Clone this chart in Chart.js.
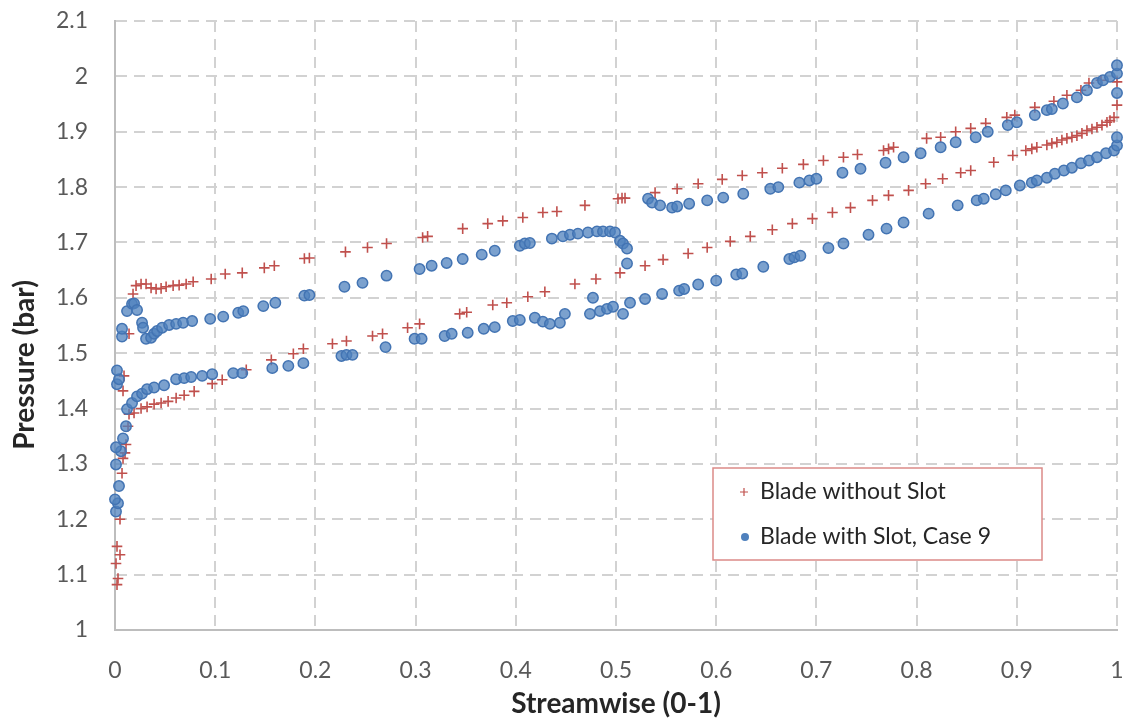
<!DOCTYPE html>
<html>
<head>
<meta charset="utf-8">
<script src="https://cdn.jsdelivr.net/npm/chart.js@4"></script>
<style>
  html, body { margin: 0; padding: 0; background: #fff; }
  canvas { display: block; }
</style>
</head>
<body>
<canvas id="pressureChart" width="1131" height="727"></canvas>
<script>
// data: [streamwise, pressure]
const seriesNames = ['Blade without Slot', 'Blade with Slot, Case 9'];

const noSlotPoints = [
    // leading edge
    [0.002,1.082],[0.003,1.093],[0.001,1.12],[0.005,1.136],[0.002,1.151],[0.005,1.2],[0.007,1.283],
    [0.008,1.31],[0.01,1.32],[0.011,1.335],[0.008,1.432],[0.009,1.459],[0.014,1.535],[0.018,1.607],
    // lower branch
    [0.013,1.368],[0.014,1.39],[0.019,1.392],[0.026,1.4],[0.032,1.403],[0.039,1.408],[0.046,1.41],
    [0.053,1.413],[0.061,1.419],[0.069,1.424],[0.079,1.431],[0.097,1.445],[0.107,1.452],[0.131,1.47],
    [0.156,1.488],[0.178,1.499],[0.188,1.508],[0.217,1.517],[0.231,1.522],[0.257,1.531],[0.267,1.535],
    [0.292,1.546],[0.304,1.553],[0.344,1.571],[0.351,1.574],[0.377,1.587],[0.391,1.591],[0.412,1.602],
    [0.429,1.611],[0.459,1.625],[0.48,1.634],[0.504,1.645],[0.529,1.658],[0.547,1.669],[0.572,1.68],
    [0.591,1.691],[0.614,1.702],[0.634,1.711],[0.656,1.723],[0.676,1.734],[0.696,1.743],[0.716,1.754],
    [0.734,1.763],[0.756,1.776],[0.772,1.785],[0.792,1.794],[0.809,1.806],[0.826,1.815],[0.844,1.826],
    [0.854,1.83],[0.877,1.845],[0.896,1.857],[0.909,1.866],[0.915,1.869],[0.92,1.872],[0.93,1.876],
    [0.935,1.879],[0.94,1.881],[0.945,1.885],[0.95,1.888],[0.955,1.89],[0.96,1.893],[0.965,1.897],
    [0.97,1.902],[0.975,1.905],[0.98,1.908],[0.985,1.912],[0.99,1.917],[0.993,1.92],[0.997,1.926],[1.0,1.948],
    // upper branch
    [0.021,1.622],[0.026,1.625],[0.031,1.625],[0.036,1.618],[0.041,1.616],[0.046,1.617],[0.051,1.62],
    [0.058,1.622],[0.064,1.623],[0.071,1.625],[0.078,1.629],[0.096,1.634],[0.11,1.643],[0.127,1.645],
    [0.149,1.654],[0.159,1.658],[0.189,1.671],[0.194,1.672],[0.23,1.683],[0.252,1.691],[0.271,1.698],
    [0.307,1.709],[0.312,1.711],[0.347,1.725],[0.372,1.734],[0.387,1.739],[0.407,1.745],[0.427,1.754],
    [0.441,1.756],[0.469,1.767],[0.502,1.779],[0.506,1.78],[0.509,1.78],[0.539,1.79],[0.561,1.797],
    [0.582,1.806],[0.606,1.814],[0.626,1.821],[0.646,1.826],[0.666,1.834],[0.687,1.841],[0.707,1.848],
    [0.727,1.854],[0.741,1.859],[0.767,1.866],[0.772,1.869],[0.777,1.872],[0.81,1.888],[0.824,1.89],
    [0.839,1.9],[0.854,1.906],[0.869,1.915],[0.89,1.926],[0.898,1.93],[0.918,1.944],[0.937,1.955],
    [0.95,1.966],[0.964,1.975],[0.972,1.988],[0.984,1.993],[1.0,1.99]
];

const withSlotPoints = [
    // leading edge
    [0.001,1.214],[0.003,1.229],[0.0,1.236],[0.004,1.26],[0.001,1.299],[0.006,1.323],[0.001,1.33],
    [0.008,1.346],[0.011,1.368],[0.002,1.444],[0.004,1.453],[0.002,1.469],
    // lower branch
    [0.012,1.399],[0.017,1.41],[0.022,1.422],[0.027,1.427],[0.032,1.435],[0.039,1.438],[0.049,1.442],
    [0.061,1.453],[0.069,1.455],[0.076,1.457],[0.087,1.459],[0.097,1.462],[0.118,1.464],[0.127,1.464],
    [0.157,1.473],[0.173,1.477],[0.188,1.482],[0.226,1.495],[0.231,1.497],[0.237,1.497],[0.27,1.511],
    [0.299,1.526],[0.306,1.526],[0.329,1.531],[0.336,1.535],[0.352,1.537],[0.368,1.544],[0.379,1.547],
    [0.397,1.558],[0.404,1.56],[0.419,1.564],[0.427,1.557],[0.434,1.553],[0.444,1.555],[0.449,1.571],
    [0.474,1.571],[0.477,1.6],[0.484,1.576],[0.491,1.58],[0.497,1.584],[0.507,1.571],[0.514,1.591],
    [0.529,1.598],[0.546,1.607],[0.563,1.613],[0.568,1.616],[0.582,1.624],[0.6,1.631],[0.62,1.642],
    [0.626,1.644],[0.647,1.656],[0.673,1.67],[0.678,1.673],[0.684,1.676],[0.712,1.69],[0.727,1.698],
    [0.752,1.714],[0.77,1.725],[0.787,1.736],[0.812,1.752],[0.841,1.767],[0.86,1.776],[0.867,1.779],
    [0.879,1.787],[0.889,1.794],[0.903,1.803],[0.915,1.808],[0.92,1.812],[0.93,1.817],[0.938,1.824],
    [0.947,1.83],[0.955,1.835],[0.964,1.843],[0.972,1.848],[0.98,1.854],[0.989,1.861],[0.997,1.866],
    [1.0,1.875],[1.0,1.89],
    // upper branch
    [0.007,1.53],[0.007,1.544],[0.012,1.576],[0.017,1.589],[0.019,1.59],[0.022,1.578],[0.027,1.555],
    [0.028,1.546],[0.031,1.526],[0.036,1.528],[0.039,1.535],[0.042,1.54],[0.047,1.546],[0.054,1.551],
    [0.061,1.553],[0.068,1.555],[0.077,1.558],[0.095,1.562],[0.108,1.566],[0.123,1.573],[0.128,1.576],
    [0.148,1.585],[0.16,1.591],[0.189,1.604],[0.194,1.605],[0.229,1.62],[0.247,1.627],[0.271,1.64],
    [0.304,1.652],[0.316,1.658],[0.331,1.663],[0.347,1.67],[0.366,1.678],[0.379,1.685],[0.404,1.694],
    [0.409,1.698],[0.414,1.699],[0.436,1.707],[0.447,1.711],[0.454,1.714],[0.462,1.716],[0.472,1.718],
    [0.481,1.72],[0.487,1.72],[0.494,1.72],[0.499,1.718],[0.504,1.703],[0.507,1.698],[0.511,1.689],
    [0.511,1.662],[0.532,1.779],[0.536,1.772],[0.544,1.767],[0.556,1.763],[0.561,1.765],[0.573,1.77],
    [0.591,1.776],[0.607,1.781],[0.627,1.788],[0.654,1.797],[0.662,1.8],[0.683,1.808],[0.693,1.812],
    [0.7,1.815],[0.726,1.826],[0.744,1.833],[0.769,1.844],[0.787,1.854],[0.804,1.861],[0.824,1.872],
    [0.839,1.881],[0.859,1.89],[0.871,1.9],[0.891,1.912],[0.9,1.917],[0.918,1.93],[0.93,1.939],
    [0.935,1.941],[0.946,1.951],[0.96,1.962],[0.97,1.975],[0.98,1.988],[0.986,1.993],[0.993,1.999],
    [1.0,2.005],[1.0,2.02],[1.0,1.97]
];

const xTicks = { min: 0, max: 1, step: 0.1 };
const yTicks = { min: 1, max: 2.1, step: 0.1 };
const xTitle = 'Streamwise (0-1)';
const yTitle = 'Pressure (bar)';

const RED = '#C0504D';
const BLUE = '#4F81BD';
const toXY = pts => pts.map(p => ({ x: p[0], y: p[1] }));
const fmt = v => String(Number(v.toFixed(1)));

// legend box inside the plot + y title (sits below the axis middle in the original)
const extras = {
    id: 'extras',
    afterDraw(chart) {
        const { ctx, chartArea: a } = chart;
        ctx.save();

        ctx.translate(25, 365);
        ctx.rotate(-Math.PI / 2);
        ctx.font = 'bold 28px Lato';
        ctx.fillStyle = '#262626';
        ctx.textAlign = 'center';
        ctx.textBaseline = 'middle';
        ctx.fillText(yTitle, 0, 0);
        ctx.setTransform(1, 0, 0, 1, 0, 0);
        ctx.textAlign = 'left';

        const w = 329, h = 92;
        const x = a.right - 75 - w, y = a.bottom - 162;
        ctx.fillStyle = '#fff';
        ctx.fillRect(x, y, w, h);
        ctx.strokeStyle = '#DB8A88';
        ctx.lineWidth = 1.5;
        ctx.strokeRect(x, y, w, h);

        ctx.font = '23px Lato';
        ctx.fillStyle = '#262626';
        // red plus
        ctx.strokeStyle = RED;
        ctx.lineWidth = 1.2;
        ctx.beginPath();
        ctx.moveTo(x + 27, y + 24); ctx.lineTo(x + 35, y + 24);
        ctx.moveTo(x + 31, y + 20); ctx.lineTo(x + 31, y + 28);
        ctx.stroke();
        ctx.fillText(seriesNames[0], x + 47, y + 24);
        // blue dot
        ctx.fillStyle = BLUE;
        ctx.beginPath();
        ctx.arc(x + 32, y + 69, 4, 0, Math.PI * 2);
        ctx.fill();
        ctx.fillStyle = '#262626';
        ctx.fillText(seriesNames[1], x + 47, y + 69);
        ctx.restore();
    }
};

const tickFont = { family: 'Lato', size: 23 };

new Chart(document.getElementById('pressureChart').getContext('2d'), {
    type: 'scatter',
    data: {
        datasets: [
        {
            label: seriesNames[0],
            data: toXY(noSlotPoints),
            pointStyle: 'cross',
            pointRadius: 5.3,
            borderColor: RED,
            backgroundColor: RED,
            borderWidth: 1.6,
            clip: false,
            order: 2
        },
        {
            label: seriesNames[1],
            data: toXY(withSlotPoints),
            pointStyle: 'circle',
            pointRadius: 5.2,
            borderColor: '#4374B3',
            backgroundColor: 'rgba(79, 129, 189, 0.75)',
            borderWidth: 1.5,
            clip: false,
            order: 1
        }]
    },
    options: {
        responsive: false,
        animation: false,
        layout: { padding: { top: 21, right: 14, left: 0, bottom: 0 } },
        plugins: {
            legend: { display: false },
            tooltip: { enabled: false }
        },
        scales: {
            x: {
                type: 'linear',
                min: xTicks.min,
                max: xTicks.max,
                afterFit: s => { s.height = 97; s.paddingLeft = 0; s.paddingRight = 0; },
                ticks: { stepSize: xTicks.step, padding: 27, color: '#595959', font: tickFont, callback: fmt },
                grid: { color: '#D2D2D2', lineWidth: 2, drawTicks: false },
                border: { color: '#BDBDBD', width: 2, dash: [11, 7] },
                title: { display: true, text: xTitle, color: '#262626', font: { family: 'Lato', size: 28, weight: 'bold' }, padding: { top: 0, bottom: 6 } }
            },
            y: {
                type: 'linear',
                min: yTicks.min,
                max: yTicks.max,
                afterFit: s => { s.width = 115; s.paddingTop = 0; s.paddingBottom = 0; },
                ticks: { stepSize: yTicks.step, padding: 27, color: '#595959', font: tickFont, callback: fmt },
                grid: { color: '#D2D2D2', lineWidth: 2, drawTicks: false },
                border: { color: '#BDBDBD', width: 2, dash: [11, 7] },
                title: { display: false }
            }
        }
    },
    plugins: [extras]
});
</script>
</body>
</html>
